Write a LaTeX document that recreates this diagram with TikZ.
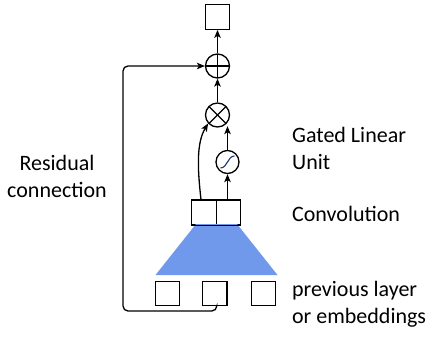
\documentclass[tikz,border=0pt]{standalone}
\usepackage{fontspec}
\setmainfont{Carlito}
\usetikzlibrary{arrows.meta,calc}
\definecolor{convblue}{RGB}{112,153,235}
\definecolor{sigcol}{RGB}{30,50,115}
\begin{document}
\begin{tikzpicture}[x=1pt,y=-1pt,
  line width=1.3pt,
  arr/.style={-{Stealth[length=8pt,width=6.5pt,inset=2pt]}},
  sq/.style={draw,minimum width=24.5pt,minimum height=24.5pt,inner sep=0pt,line width=1.3pt},
  opc/.style={draw,circle,minimum size=24pt,inner sep=0pt,line width=1.3pt},
  lbl/.style={font=\fontsize{22}{26.5}\selectfont,inner sep=0pt},
]
\useasboundingbox (0,0) rectangle (428,338);
% nodes
\node[sq] (out) at (217.5,17) {};
\node[opc,path picture={
  \draw[line width=1.3pt] (path picture bounding box.north) -- (path picture bounding box.south);
  \draw[line width=1.3pt] (path picture bounding box.west) -- (path picture bounding box.east);}] (plus) at (217.5,66) {};
\node[opc,path picture={
  \draw[line width=1.3pt] (path picture bounding box.north west) -- (path picture bounding box.south east);
  \draw[line width=1.3pt] (path picture bounding box.north east) -- (path picture bounding box.south west);}] (times) at (217.5,115) {};
\node[opc,minimum size=23pt,path picture={
  \draw[sigcol,line width=1.1pt] ($(path picture bounding box.center)+(-7,6)$) .. controls ($(path picture bounding box.center)+(0,6)$) and ($(path picture bounding box.center)+(0,-6)$) .. ($(path picture bounding box.center)+(7,-6)$);}] (sig) at (227.5,162) {};
\node[sq] (c1) at (204,212.3) {};
\node[sq] (c2) at (228.5,212.3) {};
% trapezoid
\fill[convblue] (196,224) -- (237,224) -- (277.5,275) -- (155.5,275) -- cycle;
\draw[line width=1.3pt] (c1.south west) -- (c2.south east);
\node[sq] (b1) at (167.5,293.5) {};
\node[sq] (b2) at (214.8,293.5) {};
\node[sq] (b3) at (263.5,293.5) {};
% connectors
\draw[arr] (plus.north) -- (out.south);
\draw[arr] (times.north) -- (plus.south);
\draw[arr] (sig.north) -- (sig.north |- times.-62);
\draw[arr] (sig |- c2.north) -- (sig.south);
\draw[arr] ([xshift=-3pt]c1.north) .. controls (197,165) and (197,142) .. (times.222);
\coordinate (rc) at (123,311);
\draw[arr,rounded corners=5pt] ([xshift=2pt]b2.south) |- (rc) |- (plus.west);
% labels
\node[lbl,align=center,anchor=base] (res) at (57,197) {Residual\\connection};
\node[lbl,align=left,anchor=base west] (glu) at (291.5,169) {Gated Linear\\Unit};
\node[lbl,anchor=base west] (conv) at (291.5,221) {Convolution};
\node[lbl,align=left,anchor=base west] (prev) at (291.5,323) {previous layer\\or embeddings};
\end{tikzpicture}
\end{document}
